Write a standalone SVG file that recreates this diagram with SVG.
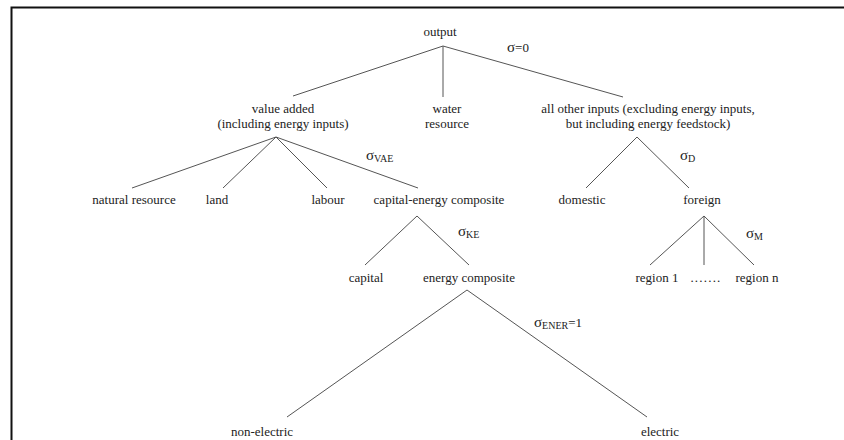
<svg xmlns="http://www.w3.org/2000/svg" width="844" height="440" viewBox="0 0 844 440">
<style>
text{font-family:"Liberation Serif","Times New Roman",serif;font-size:13px;fill:#222;text-anchor:middle}
.s{text-anchor:start;font-size:15px}
.sub{font-size:10px}
.eq{font-size:13px}
line{stroke:#555;stroke-width:1}
.frame{stroke:#111;stroke-width:2;fill:none}
</style>
<rect width="844" height="440" fill="#fff"/>
<path class="frame" d="M11.5 440 V7.5 H844"/>
<g id="connectors">
<line x1="443" y1="46" x2="293" y2="96"/>
<line x1="443" y1="46" x2="443" y2="97"/>
<line x1="443" y1="46" x2="623" y2="97"/>
<line x1="276" y1="137" x2="132" y2="188"/>
<line x1="276" y1="137" x2="223" y2="188"/>
<line x1="276" y1="137" x2="327" y2="188"/>
<line x1="276" y1="137" x2="418" y2="188"/>
<line x1="417" y1="216" x2="365" y2="265"/>
<line x1="417" y1="216" x2="469" y2="265"/>
<line x1="467" y1="290" x2="287" y2="417"/>
<line x1="467" y1="290" x2="647" y2="417"/>
<line x1="637" y1="137" x2="586" y2="188"/>
<line x1="637" y1="137" x2="689" y2="188"/>
<line x1="704" y1="216" x2="650" y2="265"/>
<line x1="704" y1="216" x2="704" y2="265"/>
<line x1="704" y1="216" x2="754" y2="265"/>
</g>
<g id="output"><text x="440" y="36">output</text></g>
<g id="sigma0"><text class="s" x="507" y="52">σ<tspan class="eq">=0</tspan></text></g>
<g id="value-added"><text x="283" y="113">value added</text><text x="283" y="128">(including energy inputs)</text></g>
<g id="water"><text x="447" y="113">water</text><text x="447" y="128">resource</text></g>
<g id="other-inputs"><text x="648" y="113">all other inputs (excluding energy inputs,</text><text x="648" y="128">but including energy feedstock)</text></g>
<g id="sigmaVAE"><text class="s" x="366" y="160">σ<tspan class="sub" dy="2">VAE</tspan></text></g>
<g id="natural-resource"><text x="134" y="204">natural resource</text></g>
<g id="land"><text x="217" y="204">land</text></g>
<g id="labour"><text x="328" y="204">labour</text></g>
<g id="capital-energy"><text x="439" y="204">capital-energy composite</text></g>
<g id="sigmaKE"><text class="s" x="458" y="236">σ<tspan class="sub" dy="2">KE</tspan></text></g>
<g id="capital"><text x="366" y="282">capital</text></g>
<g id="energy-composite"><text x="469" y="282">energy composite</text></g>
<g id="sigmaENER"><text class="s" x="534" y="327">σ<tspan class="sub" dy="2">ENER</tspan><tspan class="eq" dy="-2">=1</tspan></text></g>
<g id="non-electric"><text x="262" y="436">non-electric</text></g>
<g id="electric"><text x="660" y="436">electric</text></g>
<g id="sigmaD"><text class="s" x="680" y="160">σ<tspan class="sub" dy="2">D</tspan></text></g>
<g id="domestic"><text x="582" y="204">domestic</text></g>
<g id="foreign"><text x="702" y="204">foreign</text></g>
<g id="sigmaM"><text class="s" x="746" y="238">σ<tspan class="sub" dy="2">M</tspan></text></g>
<g id="region1"><text x="657" y="282">region 1</text></g>
<g id="dots"><text x="706" y="282" letter-spacing="1.2">.......</text></g>
<g id="regionn"><text x="757" y="282">region n</text></g>
</svg>
